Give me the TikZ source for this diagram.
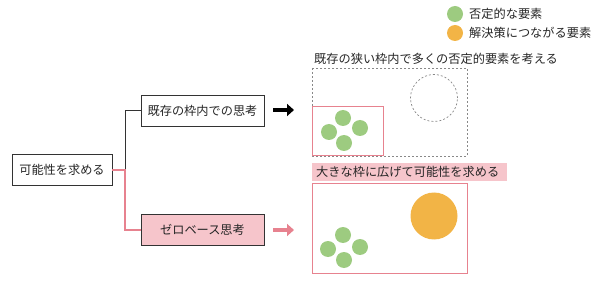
\documentclass[tikz,border=0pt]{standalone}
\usepackage{fontspec}
\setmainfont{Noto Sans CJK JP}
\usetikzlibrary{arrows.meta}
\definecolor{pgreen}{HTML}{9DCB80}
\definecolor{porange}{HTML}{F2B446}
\definecolor{pline}{HTML}{E7828F}
\definecolor{pfill}{HTML}{F6C5CB}
\definecolor{dgray}{HTML}{888888}
\begin{document}
\begin{tikzpicture}[x=1pt,y=-1pt,
  every node/.style={font=\fontsize{12.2}{14}\selectfont, text=black!85, inner sep=0pt},
  tbox/.style={draw=black!80, line width=0.8pt, minimum height=31pt, anchor=center},
  gdot/.style={circle, fill=pgreen, minimum size=16pt},
  bigarrow/.style={line width=4pt, -{Triangle[length=7pt,width=12pt]}},
  dashbox/.style={draw=dgray, dashed, dash pattern=on 2pt off 2pt, line width=0.7pt}]
\useasboundingbox (0,0) rectangle (600,286);
% legend
\node[gdot] (lg) at (455,14) {};
\node[anchor=west] (lgt) at (469,14) {否定的な要素};
\node[circle, fill=porange, minimum size=16pt] (lo) at (455,33) {};
\node[anchor=west] (lot) at (469,33) {解決策につながる要素};
% left tree
\node[tbox, minimum width=100pt] (root) at (62,170) {可能性を求める};
\node[tbox, minimum width=123pt] (exist) at (202.5,110.5) {既存の枠内での思考};
\node[tbox, minimum width=123pt, fill=pfill] (zero) at (202.5,230) {ゼロベース思考};
\coordinate (jn) at (125,170);
\draw[black!80, line width=0.8pt] (jn) |- (exist.west);
\draw[pline, line width=1.6pt] (root.east) -- (jn) |- (zero.west);
\coordinate (a1s) at (273,110);
\coordinate (a1e) at (294,110);
\coordinate (a2s) at (273,230);
\coordinate (a2e) at (294,230);
\draw[bigarrow, black] (a1s) -- (a1e);
\draw[bigarrow, pline] (a2s) -- (a2e);
% top panel
\node[anchor=west] (toplab) at (314,59) {既存の狭い枠内で多くの否定的要素を考える};
\draw[dashbox] (312,68) rectangle (467,156);
\node[circle, dashbox, minimum size=47pt] (dc) at (434,98) {};
\draw[pline, line width=1pt] (312,107) rectangle (383,156);
\node[gdot] (t1) at (343,118) {};
\node[gdot] (t2) at (329,132) {};
\node[gdot] (t3) at (360,128) {};
\node[gdot] (t4) at (344,143) {};
% bottom panel
\fill[pfill] (312,163) rectangle (507,181);
\node[anchor=west] (botlab) at (316,172) {大きな枠に広げて可能性を求める};
\draw[pline, line width=1pt] (312,184) rectangle (467,273);
\node[circle, fill=porange, minimum size=47pt] (oc) at (434,216) {};
\node[gdot] (b1) at (343,235) {};
\node[gdot] (b2) at (328,249) {};
\node[gdot] (b3) at (360,247) {};
\node[gdot] (b4) at (344,260) {};
\end{tikzpicture}
\end{document}
